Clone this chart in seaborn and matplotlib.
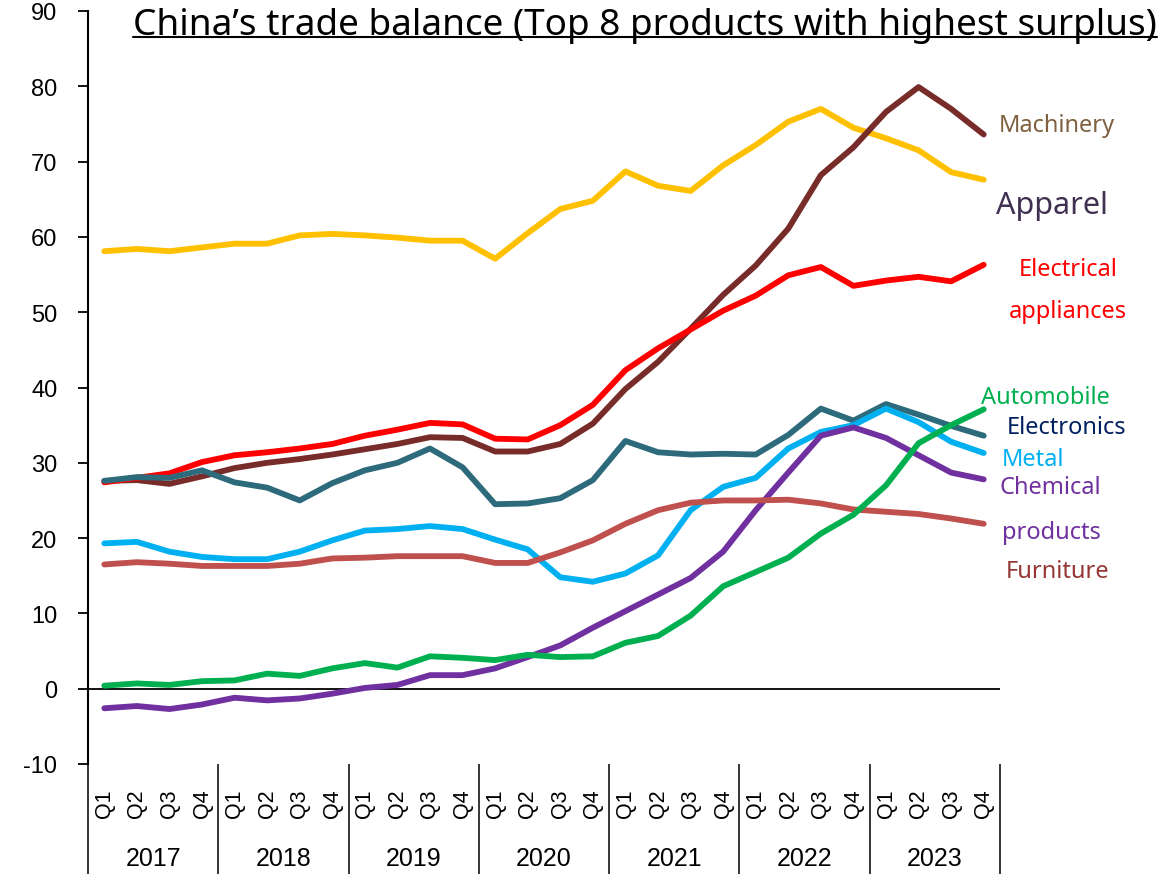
import matplotlib
matplotlib.use("Agg")
import matplotlib.pyplot as plt
import seaborn as sns
import pandas as pd
import numpy as np
from matplotlib.transforms import blended_transform_factory
from matplotlib.lines import Line2D

# ---------------- data ----------------
years = ["2017", "2018", "2019", "2020", "2021", "2022", "2023"]
quarters = ["Q1", "Q2", "Q3", "Q4"]

apparel = [58.1, 58.4, 58.1, 58.6, 59.1, 59.1, 60.2, 60.4, 60.2, 59.9, 59.5, 59.5,
           57.1, 60.5, 63.7, 64.8, 68.7, 66.8, 66.1, 69.5, 72.2, 75.3, 77.0, 74.5,
           73.1, 71.5, 68.6, 67.6]
machinery = [27.6, 27.7, 27.2, 28.2, 29.3, 30.0, 30.5, 31.1, 31.8, 32.5, 33.4, 33.3,
             31.5, 31.5, 32.5, 35.2, 39.8, 43.4, 47.8, 52.3, 56.2, 61.1, 68.2, 71.9,
             76.6, 79.9, 77.0, 73.6]
electrical = [27.4, 28.0, 28.6, 30.1, 31.0, 31.4, 31.9, 32.5, 33.6, 34.4, 35.3, 35.1,
              33.2, 33.1, 35.0, 37.7, 42.3, 45.2, 47.7, 50.2, 52.2, 54.9, 56.0, 53.5,
              54.2, 54.7, 54.1, 56.3]
electronics = [27.6, 28.1, 28.0, 29.0, 27.4, 26.7, 25.0, 27.3, 29.0, 30.0, 31.9, 29.4,
               24.5, 24.6, 25.3, 27.7, 32.9, 31.4, 31.1, 31.2, 31.1, 33.7, 37.2, 35.6,
               37.8, 36.4, 34.9, 33.6]
metal = [19.3, 19.5, 18.2, 17.5, 17.2, 17.2, 18.2, 19.7, 21.0, 21.2, 21.6, 21.2,
         19.8, 18.5, 14.8, 14.2, 15.3, 17.7, 23.7, 26.8, 28.0, 31.9, 34.1, 35.0,
         37.2, 35.4, 32.8, 31.3]
chemical = [-2.6, -2.3, -2.7, -2.1, -1.2, -1.55, -1.3, -0.66, 0.1, 0.5, 1.8, 1.8,
            2.7, 4.2, 5.75, 8.1, 10.3, 12.5, 14.7, 18.2, 23.7, 28.7, 33.6, 34.7,
            33.3, 31.0, 28.7, 27.8]
furniture = [16.5, 16.8, 16.6, 16.3, 16.3, 16.3, 16.6, 17.3, 17.4, 17.6, 17.6, 17.6,
             16.7, 16.7, 18.1, 19.7, 21.9, 23.7, 24.7, 25.0, 25.0, 25.1, 24.6, 23.8,
             23.5, 23.2, 22.6, 21.9]
automobile = [0.4, 0.7, 0.5, 1.0, 1.1, 2.0, 1.7, 2.7, 3.4, 2.8, 4.3, 4.1,
              3.8, 4.5, 4.2, 4.3, 6.1, 7.0, 9.7, 13.6, 15.5, 17.4, 20.6, 23.1,
              27.0, 32.6, 35.0, 37.1]

series = {
    "Apparel": apparel,
    "Machinery": machinery,
    "Electrical appliances": electrical,
    "Electronics": electronics,
    "Metal": metal,
    "Chemical products": chemical,
    "Furniture": furniture,
    "Automobile": automobile,
}
line_colors = {
    "Apparel": "#FFC000",
    "Machinery": "#772C2A",
    "Electrical appliances": "#FF0000",
    "Electronics": "#2C6A7C",
    "Metal": "#00B0F0",
    "Chemical products": "#7030A0",
    "Furniture": "#C0504D",
    "Automobile": "#00B050",
}

periods = [f"{y} {q}" for y in years for q in quarters]
rows = []
for name, vals in series.items():
    for i, v in enumerate(vals):
        rows.append({"t": i, "period": periods[i], "series": name, "value": v})
df = pd.DataFrame(rows)

# ---------------- style ----------------
sns.set_style("white")
plt.rcParams["font.family"] = ["Liberation Sans", "DejaVu Sans"]
plt.rcParams["axes.unicode_minus"] = False
plt.rcParams["text.color"] = "black"
plt.rcParams["lines.solid_capstyle"] = "round"
plt.rcParams["lines.solid_joinstyle"] = "round"

W, H = 1161, 879
fig = plt.figure(figsize=(W / 100, H / 100), dpi=100)
ax = fig.add_axes([88 / W, 1 - 765 / H, 912 / W, 753 / H])

ax.axhline(0, color="black", lw=1.3, zorder=1)

sns.lineplot(data=df, x="t", y="value", hue="series", hue_order=list(series.keys()),
             palette=line_colors, linewidth=4.2, legend=False, ax=ax, sort=False,
             estimator=None)

ax.set_xlim(-0.5, 27.5)
ax.set_ylim(-10, 90)
ax.set_yticks(np.arange(-10, 91, 10))
ax.set_xticks([])
ax.set_xlabel("")
ax.set_ylabel("")
for s in ["top", "right", "bottom"]:
    ax.spines[s].set_visible(False)
ax.spines["left"].set_color("black")
ax.spines["left"].set_linewidth(1.5)
ax.tick_params(axis="y", direction="out", left=True, length=7, width=1.3,
               pad=15, labelsize=17, colors="black")

# category axis below the plot
trans = blended_transform_factory(ax.transData, ax.transAxes)
for b in np.arange(-0.5, 28, 4):
    ax.plot([b, b], [0, -0.146], transform=trans, color="black", lw=1.1,
            clip_on=False, solid_capstyle="butt")
for i in range(len(periods)):
    ax.text(i, -0.052, quarters[i % 4], transform=trans, rotation=90,
            ha="center", va="center", fontsize=15.5, color="black")
for k, y in enumerate(years):
    ax.text(4 * k + 1.5, -0.125, y, transform=trans, ha="center", va="center",
            fontsize=18, color="black")

# series labels
lab_font = "Noto Sans"
labels = [
    ("Machinery", 27.47, 74.8, "#7F6040", 17),
    ("Apparel", 27.38, 64.3, "#403151", 22),
    ("Electrical", 28.09, 55.8, "#FF0000", 17),
    ("appliances", 27.78, 50.2, "#FF0000", 17),
    ("Automobile", 26.92, 38.7, "#00B050", 17),
    ("Electronics", 27.72, 34.8, "#002060", 17),
    ("Metal", 27.54, 30.5, "#00B0F0", 17),
    ("Chemical", 27.47, 26.8, "#7030A0", 17),
    ("products", 27.57, 20.8, "#7030A0", 17),
    ("Furniture", 27.69, 15.6, "#953735", 17),
]
for txt, x, y, c, fs in labels:
    ax.text(x, y, txt, ha="left", va="center", color=c, fontsize=fs,
            family=lab_font, clip_on=False)

# title with underline
title = "China\u2019s trade balance (Top 8 products with highest surplus)"
tx, ty = 133 / W, 1 - 35 / H
t = fig.text(tx, ty, title, ha="left", va="baseline", fontsize=25,
             family=lab_font, color="black")
fig.canvas.draw()
r = fig.canvas.get_renderer()
bb = t.get_window_extent(r)
t.set_fontsize(25 * 1026 / bb.width)
fig.canvas.draw()
bb = t.get_window_extent(r)
fig.add_artist(Line2D([bb.x0 / W, bb.x1 / W], [ty - 3 / H, ty - 3 / H],
                      transform=fig.transFigure, color="black", lw=1.5))

fig.savefig("out.png", dpi=100)
